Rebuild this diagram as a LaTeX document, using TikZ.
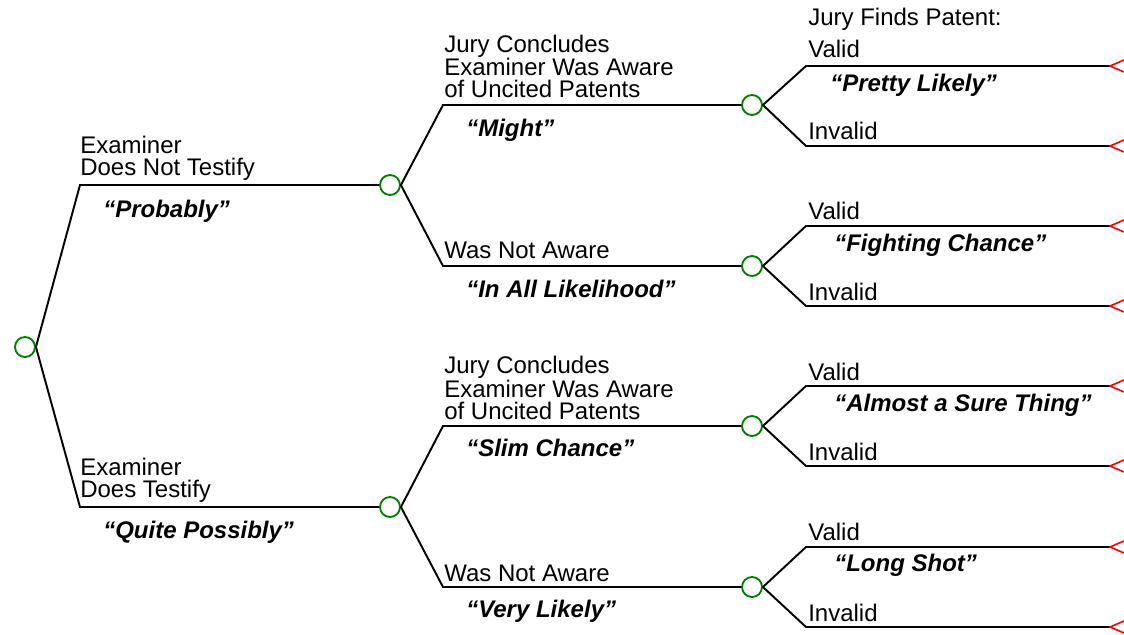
\documentclass[tikz,border=0pt]{standalone}
\usepackage{fontspec}
\setmainfont{Liberation Sans}
\definecolor{nodegreen}{RGB}{0,128,0}
\tikzset{
  chance/.style={circle, draw=nodegreen, line width=1.4pt, minimum size=15pt, inner sep=0pt},
  branch/.style={line width=1.45pt},
  lbl/.style={anchor=base west, inner sep=0pt, align=left, font=\fontsize{18}{16.5}\selectfont},
  odds/.style={anchor=base west, inner sep=0pt, font=\fontsize{18}{16.5}\selectfont\bfseries\itshape},
  payoff/.style={red, line width=1.2pt}
}
\begin{document}
\begin{tikzpicture}[x=0.75pt, y=-0.75pt]
  \useasboundingbox (0,0) rectangle (1124,635);
  % chance nodes
  \node[chance] (root) at (25,347) {};
  \node[chance] (nt) at (390,185) {};
  \node[chance] (te) at (390,507) {};
  \node[chance] (ntaw) at (752,105) {};
  \node[chance] (ntna) at (752,266) {};
  \node[chance] (teaw) at (752,426) {};
  \node[chance] (tena) at (752,587) {};
  % corners
  \coordinate (k1) at (80,185);
  \coordinate (k2) at (80,507);
  \coordinate (k3) at (443,105);
  \coordinate (k4) at (443,266);
  \coordinate (k5) at (443,426);
  \coordinate (k6) at (443,587);
  \coordinate (v1) at (806,66);   \coordinate (w1) at (806,146);
  \coordinate (v2) at (806,226);  \coordinate (w2) at (806,306);
  \coordinate (v3) at (806,386);  \coordinate (w3) at (806,466);
  \coordinate (v4) at (806,547);  \coordinate (w4) at (806,627);
  % ends
  \coordinate (e1) at (1110,66);  \coordinate (e2) at (1110,146);
  \coordinate (e3) at (1110,226); \coordinate (e4) at (1110,306);
  \coordinate (e5) at (1110,386); \coordinate (e6) at (1110,466);
  \coordinate (e7) at (1110,547); \coordinate (e8) at (1110,627);
  % testify or not
  \draw[branch] (root.east) -- (k1) -- (nt.west);
  \draw[branch] (root.east) -- (k2) -- (te.west);
  % aware or not
  \draw[branch] (nt.east) -- (k3) -- (ntaw.west);
  \draw[branch] (nt.east) -- (k4) -- (ntna.west);
  \draw[branch] (te.east) -- (k5) -- (teaw.west);
  \draw[branch] (te.east) -- (k6) -- (tena.west);
  % valid or invalid
  \draw[branch] (ntaw.east) -- (v1) -- (e1);
  \draw[branch] (ntaw.east) -- (w1) -- (e2);
  \draw[branch] (ntna.east) -- (v2) -- (e3);
  \draw[branch] (ntna.east) -- (w2) -- (e4);
  \draw[branch] (teaw.east) -- (v3) -- (e5);
  \draw[branch] (teaw.east) -- (w3) -- (e6);
  \draw[branch] (tena.east) -- (v4) -- (e7);
  \draw[branch] (tena.east) -- (w4) -- (e8);
  % end marks
  \foreach \e in {e1,e2,e3,e4,e5,e6,e7,e8}
    \draw[payoff] ([shift={(14,-6)}]\e) -- (\e) -- ([shift={(14,6)}]\e);
  % labels, first level
  \node[lbl] (lnt) at (80,175) {Examiner\\Does Not Testify};
  \node[odds] (ont) at (103,217) {``Probably''};
  \node[lbl] (lte) at (80,497) {Examiner\\Does Testify};
  \node[odds] (ote) at (103,538) {``Quite Possibly''};
  % labels, second level
  \node[lbl] (lntaw) at (444,98) {Jury Concludes\\Examiner Was Aware\\of Uncited Patents};
  \node[odds] (ontaw) at (466,136) {``Might''};
  \node[lbl] (lntna) at (444,258) {Was Not Aware};
  \node[odds] (ontna) at (466,297) {``In All Likelihood''};
  \node[lbl] (lteaw) at (444,419) {Jury Concludes\\Examiner Was Aware\\of Uncited Patents};
  \node[odds] (oteaw) at (466,456) {``Slim Chance''};
  \node[lbl] (ltena) at (444,581) {Was Not Aware};
  \node[odds] (otena) at (466,617) {``Very Likely''};
  % labels, third level
  \node[lbl] (head) at (808,26) {Jury Finds Patent:};
  \node[lbl] (val1) at (808,58) {Valid};
  \node[odds] (o1) at (830,92) {``Pretty Likely''};
  \node[lbl] (inv1) at (808,139) {Invalid};
  \node[lbl] (val2) at (808,219) {Valid};
  \node[odds] (o2) at (834,251) {``Fighting Chance''};
  \node[lbl] (inv2) at (808,300) {Invalid};
  \node[lbl] (val3) at (808,380) {Valid};
  \node[odds] (o3) at (834,411) {``Almost a Sure Thing''};
  \node[lbl] (inv3) at (808,460) {Invalid};
  \node[lbl] (val4) at (808,540) {Valid};
  \node[odds] (o4) at (834,571) {``Long Shot''};
  \node[lbl] (inv4) at (808,621) {Invalid};
\end{tikzpicture}
\end{document}
